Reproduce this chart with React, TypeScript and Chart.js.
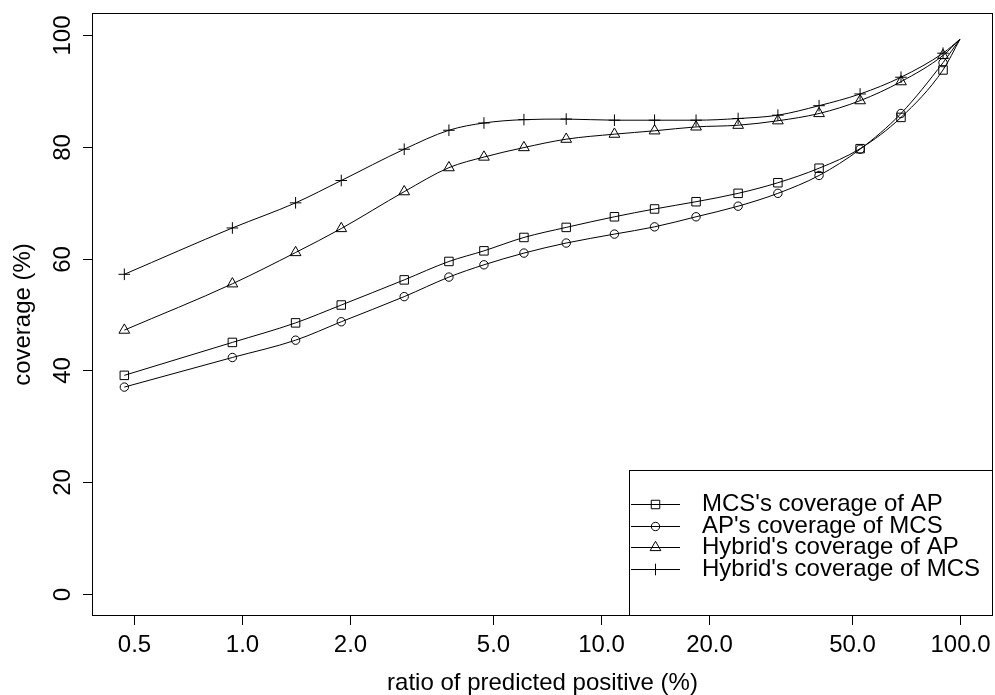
import React, { useEffect, useRef } from 'react';
import { Chart, registerables } from 'chart.js';

Chart.register(...registerables);

// ratio of predicted positive (%)
const xValues = [0.47, 0.94, 1.41, 1.89, 2.83, 3.77, 4.72, 6.1, 8.0, 10.9, 14.1, 18.4, 24.1, 31.1, 40.5, 52.7, 68.5, 89.7, 100];
// coverage (%)
const mcsCoverageOfAP = [39.1, 45.0, 48.5, 51.7, 56.2, 59.5, 61.4, 63.8, 65.6, 67.5, 68.9, 70.2, 71.7, 73.6, 76.2, 79.7, 85.3, 93.8, 99.3];
const apCoverageOfMCS = [37.0, 42.3, 45.4, 48.7, 53.2, 56.7, 58.9, 61.0, 62.8, 64.4, 65.7, 67.5, 69.4, 71.7, 74.9, 79.6, 86.0, 95.1, 99.3];
const hybridCoverageOfAP = [47.2, 55.5, 61.1, 65.4, 72.0, 76.3, 78.2, 79.9, 81.4, 82.3, 82.9, 83.6, 83.9, 84.7, 86.0, 88.3, 91.7, 96.4, 99.3];
const hybridCoverageOfMCS = [57.2, 65.5, 70.0, 74.0, 79.6, 83.0, 84.3, 84.9, 85.0, 84.8, 84.8, 84.8, 85.1, 85.7, 87.4, 89.5, 92.5, 96.8, 99.3];

const seriesNames = [
  "MCS's coverage of AP",
  "AP's coverage of MCS",
  "Hybrid's coverage of AP",
  "Hybrid's coverage of MCS",
];
const seriesValues = [mcsCoverageOfAP, apCoverageOfMCS, hybridCoverageOfAP, hybridCoverageOfMCS];
const seriesMarkers = ['rect', 'circle', 'triangle', 'cross'];
const markerRadius: Record<string, number> = { rect: 6, circle: 4.2, triangle: 6.2, cross: 5.8 };

const xTicks = [0.5, 1, 2, 5, 10, 20, 50, 100];
const xTickLabels = ['0.5', '1.0', '2.0', '5.0', '10.0', '20.0', '50.0', '100.0'];
const yTicks = [0, 20, 40, 60, 80, 100];
const yTickLabels = ['0', '20', '40', '60', '80', '100'];
const xTitle = 'ratio of predicted positive (%)';
const yTitle = 'coverage (%)';

const FONT = '24px "Liberation Sans", Arial, Helvetica, sans-serif';

function drawMarker(ctx: CanvasRenderingContext2D, style: string, x: number, y: number) {
  const r = markerRadius[style];
  ctx.beginPath();
  if (style === 'rect') {
    const s = Math.SQRT1_2 * r;
    ctx.rect(x - s, y - s, 2 * s, 2 * s);
  } else if (style === 'circle') {
    ctx.arc(x, y, r, 0, Math.PI * 2);
  } else if (style === 'triangle') {
    for (let i = 0; i < 3; i++) {
      const a = (i * 2 * Math.PI) / 3;
      const px = x + Math.sin(a) * r;
      const py = y - Math.cos(a) * r;
      if (i === 0) ctx.moveTo(px, py);
      else ctx.lineTo(px, py);
    }
    ctx.closePath();
  } else {
    ctx.moveTo(x - r, y);
    ctx.lineTo(x + r, y);
    ctx.moveTo(x, y - r);
    ctx.lineTo(x, y + r);
  }
  ctx.stroke();
}

const decorPlugin = {
  id: 'rDecor',
  afterDraw(chart: any) {
    const { ctx, chartArea, scales } = chart;
    const { left, right, top, bottom } = chartArea;
    ctx.save();
    ctx.strokeStyle = '#000';
    ctx.fillStyle = '#000';
    ctx.lineWidth = 1;
    // plot box
    ctx.strokeRect(Math.round(left) + 0.5, Math.round(top) + 0.5, Math.round(right - left) - 1, Math.round(bottom - top) - 1);

    ctx.font = FONT;
    // x ticks
    ctx.textAlign = 'center';
    ctx.textBaseline = 'alphabetic';
    xTicks.forEach((t, i) => {
      const px = Math.round(scales.x.getPixelForValue(t)) + 0.5;
      ctx.beginPath();
      ctx.moveTo(px, bottom);
      ctx.lineTo(px, bottom + 9);
      ctx.stroke();
      ctx.fillText(xTickLabels[i], px, bottom + 36);
    });
    // y ticks
    yTicks.forEach((t, i) => {
      const py = Math.round(scales.y.getPixelForValue(t)) + 0.5;
      ctx.beginPath();
      ctx.moveTo(left, py);
      ctx.lineTo(left - 9, py);
      ctx.stroke();
      ctx.save();
      ctx.translate(left - 22, py);
      ctx.rotate(-Math.PI / 2);
      ctx.fillText(yTickLabels[i], 0, 0);
      ctx.restore();
    });
    // axis titles
    ctx.fillText(xTitle, (left + right) / 2, bottom + 74);
    ctx.save();
    ctx.translate(30, (top + bottom) / 2);
    ctx.rotate(-Math.PI / 2);
    ctx.fillText(yTitle, 0, 0);
    ctx.restore();

    // legend
    const lx = 629.5;
    const ly = 470.5;
    ctx.fillStyle = '#fff';
    ctx.fillRect(lx, ly, right - lx - 0.5, bottom - ly - 0.5);
    ctx.fillStyle = '#000';
    ctx.strokeRect(lx, ly, right - lx - 0.5, bottom - ly - 0.5);
    ctx.textAlign = 'left';
    seriesNames.forEach((name, i) => {
      const ey = Math.round(504 + i * 21.7) + 0.5;
      ctx.beginPath();
      ctx.moveTo(631, ey);
      ctx.lineTo(680, ey);
      ctx.stroke();
      drawMarker(ctx, seriesMarkers[i], 655.5, ey);
      ctx.fillText(name, 702, ey + 6);
    });
    ctx.restore();
  },
};

export default function App() {
  const canvasRef = useRef<HTMLCanvasElement | null>(null);

  useEffect(() => {
    document.body.style.margin = '0';
    const canvas = canvasRef.current;
    if (!canvas) return;
    const last = xValues.length - 1;
    const datasets = seriesValues.map((vals, si) => ({
      label: seriesNames[si],
      data: vals.map((v, i) => ({ x: xValues[i], y: v })),
      borderColor: '#000',
      borderWidth: 1,
      backgroundColor: 'rgba(0,0,0,0)',
      pointStyle: seriesMarkers[si],
      pointRadius: (c: any) => (c.dataIndex === last ? 0 : markerRadius[seriesMarkers[si]]),
      pointBorderColor: '#000',
      pointBackgroundColor: 'rgba(0,0,0,0)',
      pointBorderWidth: 1,
      cubicInterpolationMode: 'monotone' as const,
      fill: false,
    }));
    const chart = new Chart(canvas, {
      type: 'line',
      data: { datasets },
      options: {
        responsive: false,
        animation: false,
        layout: { autoPadding: false, padding: { left: 92, right: 2, top: 13, bottom: 79 } },
        scales: {
          x: { type: 'logarithmic', min: 0.382, max: 123.6, bounds: 'data', display: false },
          y: { type: 'linear', min: -4, max: 104, display: false },
        },
        plugins: { legend: { display: false }, tooltip: { enabled: false } },
      },
      plugins: [decorPlugin],
    });
    return () => chart.destroy();
  }, []);

  return (
    <div style={{ width: 995, height: 695, background: '#fff' }}>
      <canvas ref={canvasRef} width={995} height={695} style={{ display: 'block' }} />
    </div>
  );
}
